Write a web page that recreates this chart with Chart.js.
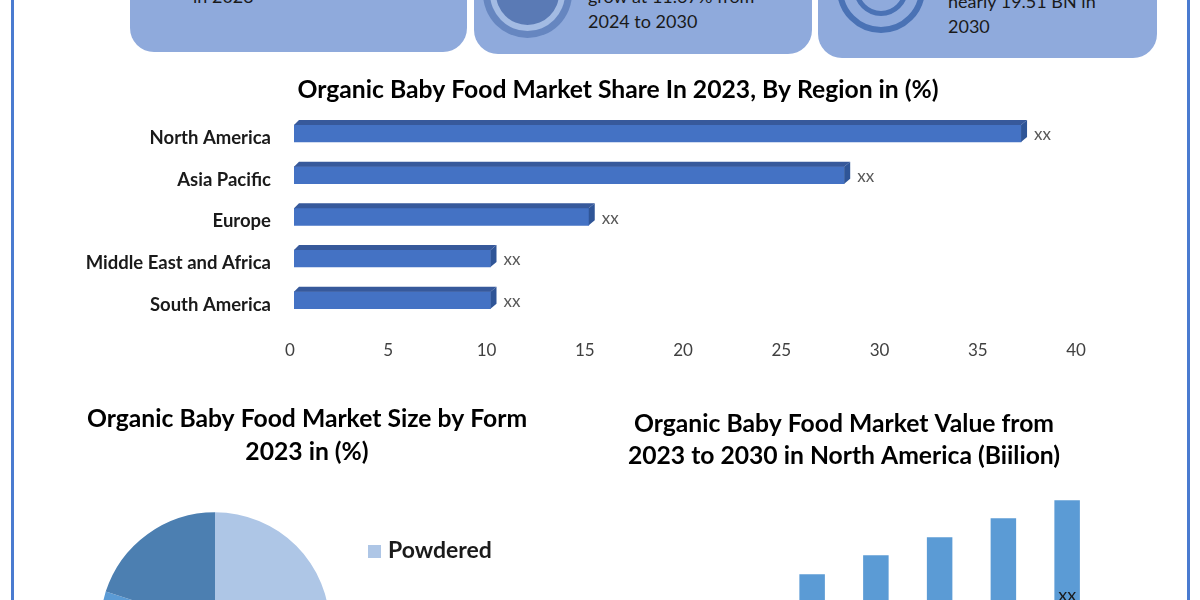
<!DOCTYPE html>
<html>
<head>
<meta charset="utf-8">
<script src="https://cdn.jsdelivr.net/npm/chart.js@4"></script>
<style>
  html, body { margin: 0; padding: 0; background: #fff; }
  #page { position: relative; width: 1200px; height: 600px; overflow: hidden; font-family: Lato, sans-serif; color: #1a1a1a; }
  #page canvas { position: absolute; }
  .edge { position: absolute; top: 0; height: 600px; width: 3px; background: #4a7bd0; }
  .panel { position: absolute; top: -60px; background: #8faadc; border-radius: 24px; }
  .ball { position: absolute; border-radius: 50%; box-sizing: border-box; }
  .txt { position: absolute; font-size: 18px; line-height: 23px; white-space: nowrap; }
  #legend { position: absolute; left: 368px; top: 534px; }
  #legend div { height: 60px; line-height: 31px; font-size: 23px; font-weight: 700; white-space: nowrap; }
  #legend span { display: inline-block; width: 13px; height: 13px; margin-right: 7px; }
</style>
</head>
<body>
<div id="page">
  <div class="edge" style="left:11px"></div>
  <div class="edge" style="left:1187px"></div>

  <div class="panel" style="left:130px;width:337px;height:112px"></div>
  <div class="panel" style="left:474px;width:338px;height:114px"></div>
  <div class="panel" style="left:818px;width:339px;height:118px"></div>

  <div class="ball" style="left:483px;top:-51px;width:89px;height:89px;background:#6686c0"></div>
  <div class="ball" style="left:490px;top:-44px;width:75px;height:75px;background:#a3bbe3"></div>
  <div class="ball" style="left:496px;top:-38px;width:63px;height:63px;background:#5a7ab5"></div>

  <div class="ball" style="left:837px;top:-55px;width:88px;height:88px;border:6px solid #4a72b5"></div>
  <div class="ball" style="left:854px;top:-38px;width:54px;height:54px;border:5px solid #4a72b5"></div>

  <div class="txt" style="left:193px;top:-15px">in 2023</div>
  <div class="txt" style="left:588px;top:-15px">grow at 11.67% from</div>
  <div class="txt" style="left:588px;top:10px">2024 to 2030</div>
  <div class="txt" style="left:948px;top:-10px">nearly 19.51 BN in</div>
  <div class="txt" style="left:948px;top:15px">2030</div>

  <canvas id="regionChart" width="1116" height="291" style="left:60px;top:72px"></canvas>
  <canvas id="formChart" width="614" height="342" style="left:0;top:400px"></canvas>
  <canvas id="valueChart" width="510" height="320" style="left:589px;top:400px"></canvas>
  <div id="legend"></div>
</div>

<script>
//data
const regions = ["North America", "Asia Pacific", "Europe", "Middle East and Africa", "South America"];
const regionShare = [37, 28, 15, 10, 10];
const regionTicks = [0, 5, 10, 15, 20, 25, 30, 35, 40];

const forms = ["Powdered", "Liquid", "Others"];
const formShare = [50, 30, 20];
const formColors = ["#aec6e6", "#5b9bd5", "#4c7fb1"];

const years = ["2023", "2024", "2025", "2026", "2027", "2028", "2029", "2030"];
const yearValue = [2.7, 3.1, 3.5, 4.64, 5.4, 6.12, 6.88, 7.6];

const barLabel = "xx";
const fontName = "Lato, sans-serif";

Chart.defaults.animation = false;
Chart.defaults.font.family = fontName;

//fake 3d sides on the bars plus the xx labels
const depthBars = {
  id: "depthBars",
  afterDatasetsDraw(chart) {
    const ctx = chart.ctx;
    chart.getDatasetMeta(0).data.forEach((bar) => {
      const top = bar.y - bar.height / 2;
      const bottom = bar.y + bar.height / 2;
      ctx.fillStyle = "#37599b";
      ctx.beginPath();
      ctx.moveTo(bar.base, top);
      ctx.lineTo(bar.base + 5, top - 5);
      ctx.lineTo(bar.x + 6, top - 5);
      ctx.lineTo(bar.x, top);
      ctx.fill();
      ctx.fillStyle = "#2f5597";
      ctx.beginPath();
      ctx.moveTo(bar.x, top);
      ctx.lineTo(bar.x + 6, top - 5);
      ctx.lineTo(bar.x + 6, bottom - 5);
      ctx.lineTo(bar.x, bottom);
      ctx.fill();
      ctx.fillStyle = "#595959";
      ctx.font = "17px " + fontName;
      ctx.textBaseline = "middle";
      ctx.fillText(barLabel, bar.x + 13, bar.y + 1.5);
    });
  }
};

const centerLabels = {
  id: "centerLabels",
  afterDatasetsDraw(chart) {
    const ctx = chart.ctx;
    chart.getDatasetMeta(0).data.forEach((bar) => {
      ctx.fillStyle = "#1a1a1a";
      ctx.font = "18px " + fontName;
      ctx.textAlign = "center";
      ctx.textBaseline = "middle";
      ctx.fillText(barLabel, bar.x, (bar.y + bar.base) / 2);
    });
  }
};

//title is centered on the whole canvas, not on the plot part
const wideTitle = {
  id: "wideTitle",
  afterLayout(chart) {
    chart.titleBlock.right = chart.width;
  }
};

//region chart
new Chart(document.getElementById("regionChart"), {
  type: "bar",
  data: {
    labels: regions,
    datasets: [{ data: regionShare, backgroundColor: "#4472c4", barThickness: 17 }]
  },
  options: {
    responsive: false,
    indexAxis: "y",
    layout: { padding: { right: 96 } },
    plugins: {
      legend: { display: false },
      tooltip: { enabled: false },
      title: {
        display: true,
        text: "Organic Baby Food Market Share In 2023, By Region in (%)",
        color: "#000",
        font: { size: 24.7, weight: "bold" },
        padding: { top: 3, bottom: 8 }
      }
    },
    scales: {
      x: {
        min: 0,
        max: 40,
        afterFit: (scale) => { scale.height = 42; },
        afterBuildTicks: (scale) => { scale.ticks = regionTicks.map((value) => ({ value })); },
        grid: { display: false },
        border: { display: false },
        ticks: { color: "#404040", font: { size: 17 }, padding: 11, labelOffset: -4, maxRotation: 0 }
      },
      y: {
        afterFit: (scale) => { scale.width = 234; },
        grid: { display: false },
        border: { display: false },
        ticks: { color: "#1a1a1a", font: { size: 18.5, weight: "bold" }, padding: 15, labelOffset: 4.5 }
      }
    }
  },
  plugins: [depthBars, wideTitle]
});

//form chart
new Chart(document.getElementById("formChart"), {
  type: "pie",
  data: {
    labels: forms,
    datasets: [{ data: formShare, backgroundColor: formColors, borderWidth: 0 }]
  },
  options: {
    responsive: false,
    layout: { padding: { right: 184 } },
    plugins: {
      legend: { display: false },
      tooltip: { enabled: false },
      title: {
        display: true,
        text: ["Organic Baby Food Market Size by Form", "2023 in (%)"],
        color: "#000",
        font: { size: 24.7, weight: "bold", lineHeight: 1.34 },
        padding: { top: 2, bottom: 44 }
      }
    }
  },
  plugins: [wideTitle]
});

//legend for the pie
forms.forEach((form, i) => {
  const row = document.createElement("div");
  row.innerHTML = `<span style="background:${formColors[i]}"></span>${form}`;
  document.getElementById("legend").appendChild(row);
});

//value chart
new Chart(document.getElementById("valueChart"), {
  type: "bar",
  data: {
    labels: years,
    datasets: [{ data: yearValue, backgroundColor: "#5b9bd5", barPercentage: 0.4, categoryPercentage: 1 }]
  },
  options: {
    responsive: false,
    plugins: {
      legend: { display: false },
      tooltip: { enabled: false },
      title: {
        display: true,
        text: ["Organic Baby Food Market Value from", "2023 to 2030 in North America (Biilion)"],
        color: "#000",
        font: { size: 24.7, weight: "bold", lineHeight: 1.3 },
        padding: { top: 8, bottom: 18 }
      }
    },
    scales: {
      x: {
        afterFit: (scale) => { scale.height = 30; },
        grid: { display: false },
        border: { display: false },
        ticks: { color: "#404040", font: { size: 16 } }
      },
      y: { display: false, min: 0, max: 8 }
    }
  },
  plugins: [centerLabels]
});
</script>
</body>
</html>
